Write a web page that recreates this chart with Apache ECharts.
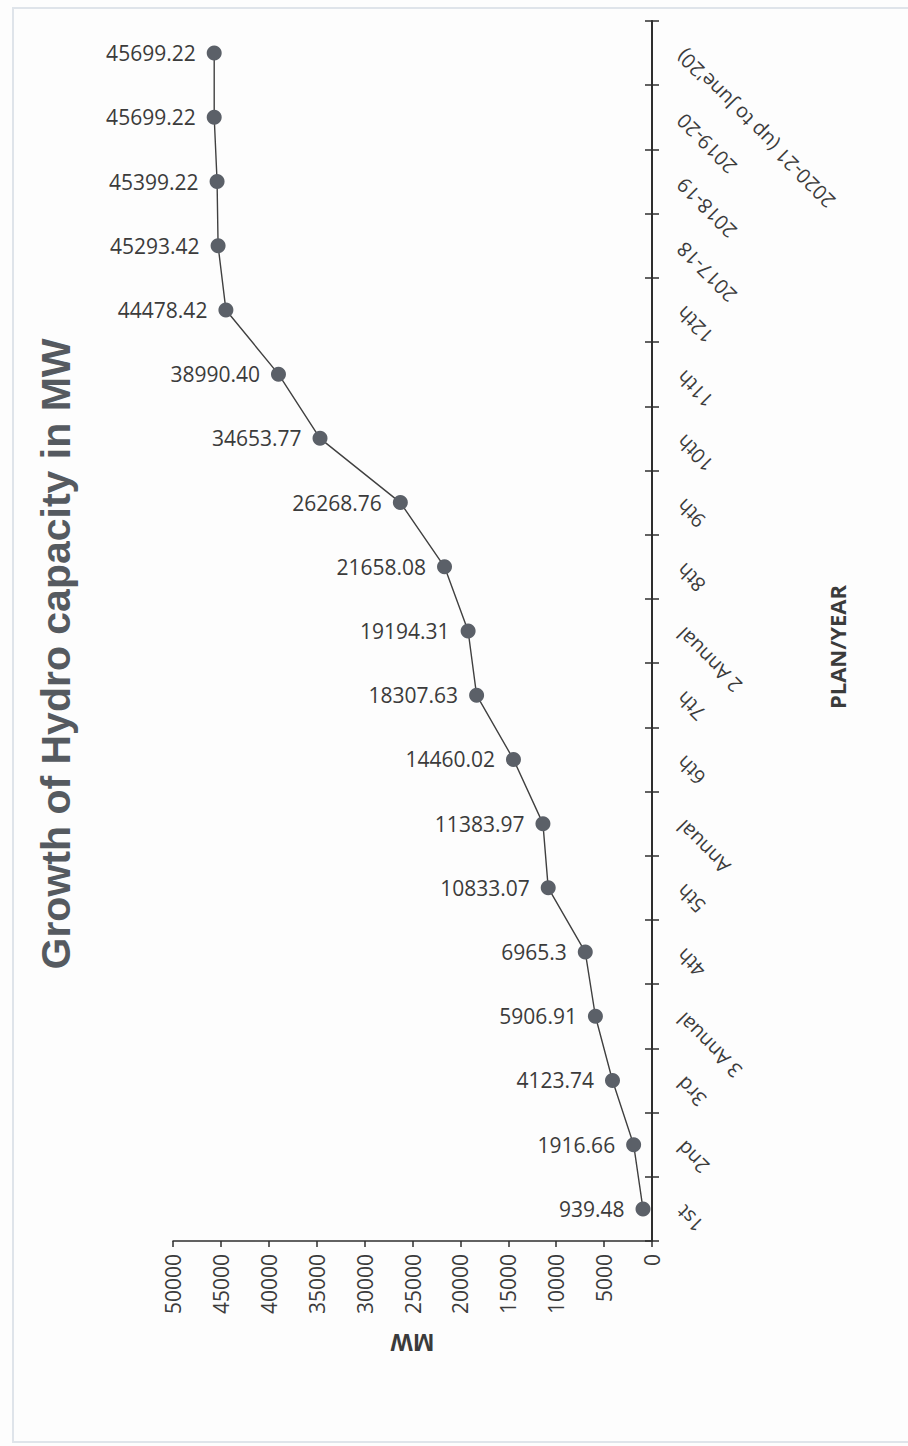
<!DOCTYPE html>
<html>
<head>
<meta charset="utf-8">
<script src="https://cdn.jsdelivr.net/npm/echarts@6/dist/echarts.min.js"></script>
<style>
html,body{margin:0;padding:0;background:#fdfdfd;}
#chart{width:908px;height:1446px;}
</style>
</head>
<body>
<div id="chart"></div>
<script>
// Categories (plan / year), in chronological order (bottom to top in the picture)
const categories = ['1st','2nd','3rd','3 Annual','4th','5th','Annual','6th','7th','2 Annual','8th','9th','10th','11th','12th','2017-18','2018-19','2019-20',"2020-21 (up to June'20)"];
// Cumulative hydro capacity (MW)
const capacityMW = [939.48,1916.66,4123.74,5906.91,6965.3,10833.07,11383.97,14460.02,18307.63,19194.31,21658.08,26268.76,34653.77,38990.40,44478.42,45293.42,45399.22,45699.22,45699.22];
// Value-axis tick labels
const mwTicks = [0,5000,10000,15000,20000,25000,30000,35000,40000,45000,50000];
// Label texts as printed (keeps the trailing zero of 38990.40)
const capacityText = ['939.48','1916.66','4123.74','5906.91','6965.3','10833.07','11383.97','14460.02','18307.63','19194.31','21658.08','26268.76','34653.77','38990.40','44478.42','45293.42','45399.22','45699.22','45699.22'];

const chart = echarts.init(document.getElementById('chart'), null, {renderer:'svg'});
const FONT = 'Open Sans';
const TXT = '#3b3b3b';

const option = {
  backgroundColor: '#fdfdfd',
  animation: false,
  grid: {left: 173, right: 256, top: 21, bottom: 205, containLabel: false},
  xAxis: {
    type: 'value',
    inverse: true,
    min: mwTicks[0],
    max: mwTicks[mwTicks.length-1],
    interval: mwTicks[1]-mwTicks[0],
    position: 'bottom',
    name: 'MW',
    nameLocation: 'middle',
    nameRotate: 180,
    nameGap: 90,
    nameTextStyle: {fontFamily: FONT, fontWeight: 'bold', fontSize: 23, color: TXT},
    axisLine: {show: true, lineStyle: {color: '#2e2e2e', width: 1.5}},
    axisTick: {show: true, length: 6, lineStyle: {color: '#2e2e2e', width: 1.5}},
    axisLabel: {rotate: 90, margin: 13, fontFamily: FONT, fontSize: 21, color: TXT,
      formatter: v => String(v)},
    splitLine: {show: false}
  },
  yAxis: [{
    type: 'category',
    data: categories,
    position: 'right',
    boundaryGap: true,
    axisLine: {show: true, lineStyle: {color: '#2e2e2e', width: 2}},
    axisTick: {show: true, length: 7, lineStyle: {color: '#2e2e2e', width: 1.5}},
    axisLabel: {rotate: 135, margin: 28, fontFamily: FONT, fontSize: 20, color: TXT, interval: 0},
    splitLine: {show: false}
  },{
    type: 'category',
    data: categories,
    position: 'right',
    boundaryGap: true,
    axisLine: {show: false},
    axisTick: {show: true, inside: true, length: 7, lineStyle: {color: '#2e2e2e', width: 1.5}},
    axisLabel: {show: false},
    splitLine: {show: false}
  }],
  series: [{
    type: 'line',
    yAxisIndex: 0,
    data: capacityMW,
    symbol: 'circle',
    symbolSize: 15,
    itemStyle: {color: '#5b6068'},
    lineStyle: {color: '#404040', width: 1.4},
    label: {
      show: true,
      position: 'left',
      distance: 11,
      fontFamily: FONT,
      fontSize: 21,
      color: TXT,
      formatter: p => capacityText[p.dataIndex]
    }
  }],
  graphic: [{
    type: 'rect',
    silent: true,
    shape: {x: 13, y: 8, width: 905, height: 1434},
    style: {fill: 'none', stroke: '#dfe4ea', lineWidth: 2}
  },{
    type: 'text',
    x: 56, y: 654,
    rotation: Math.PI/2,
    style: {
      text: 'Growth of Hydro capacity in MW',
      fontFamily: 'Liberation Sans', fontWeight: 'bold', fontSize: 41,
      fill: '#555a60', align: 'center', verticalAlign: 'middle'
    }
  },{
    type: 'text',
    x: 837, y: 647,
    rotation: Math.PI/2,
    style: {
      text: 'PLAN/YEAR',
      fontFamily: FONT, fontWeight: 'bold', fontSize: 22,
      fill: TXT, align: 'center', verticalAlign: 'middle'
    }
  }]
};
chart.setOption(option);
</script>
</body>
</html>
